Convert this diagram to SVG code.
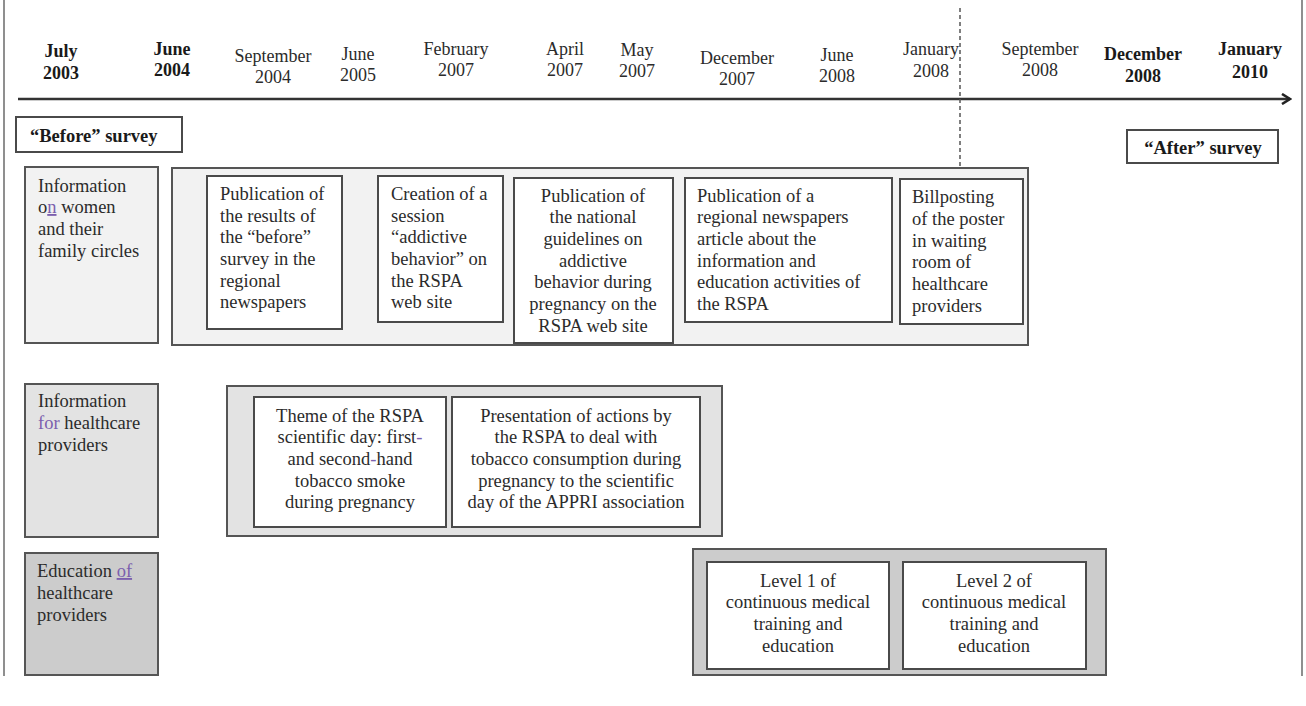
<svg xmlns="http://www.w3.org/2000/svg" width="1306" height="706" viewBox="0 0 1306 706">
<style>
  text { font-family: "Liberation Serif", "Times New Roman", serif; fill: #2b2b2b; }
  .d { font-size: 18px; text-anchor: middle; }
  .b { font-weight: bold; fill: #1a1a1a; }
  .t { font-size: 18.5px; }
  .c { text-anchor: middle; }
  .box { fill: #ffffff; stroke: #4a4a4a; stroke-width: 2; }
  .r1 { fill: #f2f2f2; stroke: #555; stroke-width: 2; }
  .r2 { fill: #e3e3e3; stroke: #555; stroke-width: 2; }
  .r3 { fill: #cccccc; stroke: #555; stroke-width: 2; }
  .p { fill: #7b5fae; }
  .frame { stroke: #6a6a6a; stroke-width: 1.5; fill: none; }
</style>
<defs>
  <marker id="arr" viewBox="0 0 12 12" refX="10" refY="6" markerWidth="12" markerHeight="12" markerUnits="userSpaceOnUse" orient="auto">
    <path d="M2,1 L10,6 L2,11" fill="none" stroke="#222" stroke-width="2.6" stroke-linejoin="miter"/>
  </marker>
</defs>

<g id="frame">
  <line class="frame" x1="4" y1="0" x2="4" y2="676"/>
  <line class="frame" x1="1302" y1="0" x2="1302" y2="676"/>
</g>

<g id="connectors">
  <line id="timeline-axis" x1="18" y1="99" x2="1290" y2="99" stroke="#333" stroke-width="2.5" marker-end="url(#arr)"/>
  <line id="dashed-marker" x1="960" y1="8" x2="960" y2="168" stroke="#555" stroke-width="1.5" stroke-dasharray="4,3"/>
</g>

<g id="dates">
  <text class="d b" x="61" y="57">July</text><text class="d b" x="61" y="79">2003</text>
  <text class="d b" x="172" y="55">June</text><text class="d b" x="172" y="76">2004</text>
  <text class="d" x="273" y="62">September</text><text class="d" x="273" y="83">2004</text>
  <text class="d" x="358" y="60">June</text><text class="d" x="358" y="81">2005</text>
  <text class="d" x="456" y="55">February</text><text class="d" x="456" y="76">2007</text>
  <text class="d" x="565" y="55">April</text><text class="d" x="565" y="76">2007</text>
  <text class="d" x="637" y="56">May</text><text class="d" x="637" y="77">2007</text>
  <text class="d" x="737" y="64">December</text><text class="d" x="737" y="85">2007</text>
  <text class="d" x="837" y="61">June</text><text class="d" x="837" y="82">2008</text>
  <text class="d" x="931" y="55">January</text><text class="d" x="931" y="77">2008</text>
  <text class="d" x="1040" y="55">September</text><text class="d" x="1040" y="76">2008</text>
  <text class="d b" x="1143" y="60">December</text><text class="d b" x="1143" y="82">2008</text>
  <text class="d b" x="1250" y="55">January</text><text class="d b" x="1250" y="78">2010</text>
</g>

<g id="before-survey">
  <rect class="box" x="16" y="117" width="166" height="35"/>
  <text class="t b" x="30" y="142">“Before” survey</text>
</g>
<g id="after-survey">
  <rect class="box" x="1127" y="130" width="151" height="33"/>
  <text class="t b c" x="1203" y="154">“After” survey</text>
</g>

<g id="row1-label">
  <rect class="r1" x="25" y="167" width="133" height="176"/>
  <text class="t" x="38" y="192">Information</text>
  <text class="t" x="38" y="213">o<tspan class="p" text-decoration="underline">n</tspan> women</text>
  <text class="t" x="38" y="235">and their</text>
  <text class="t" x="38" y="257">family circles</text>
</g>
<g id="row1-container">
  <rect class="r1" x="172" y="168" width="856" height="177"/>
</g>
<g id="r1-box1">
  <rect class="box" x="207" y="176" width="135" height="153"/>
  <text class="t" x="220" y="200">Publication of</text>
  <text class="t" x="220" y="222">the results of</text>
  <text class="t" x="220" y="243">the “before”</text>
  <text class="t" x="220" y="265">survey in the</text>
  <text class="t" x="220" y="287">regional</text>
  <text class="t" x="220" y="308">newspapers</text>
</g>
<g id="r1-box2">
  <rect class="box" x="378" y="176" width="125" height="146"/>
  <text class="t" x="391" y="200">Creation of a</text>
  <text class="t" x="391" y="222">session</text>
  <text class="t" x="391" y="243">“addictive</text>
  <text class="t" x="391" y="265">behavior” on</text>
  <text class="t" x="391" y="287">the RSPA</text>
  <text class="t" x="391" y="308">web site</text>
</g>
<g id="r1-box3">
  <rect class="box" x="514" y="178" width="159" height="165"/>
  <text class="t c" x="593" y="202">Publication of</text>
  <text class="t c" x="593" y="223">the national</text>
  <text class="t c" x="593" y="245">guidelines on</text>
  <text class="t c" x="593" y="267">addictive</text>
  <text class="t c" x="593" y="288">behavior during</text>
  <text class="t c" x="593" y="310">pregnancy on the</text>
  <text class="t c" x="593" y="332">RSPA web site</text>
</g>
<g id="r1-box4">
  <rect class="box" x="685" y="178" width="207" height="144"/>
  <text class="t" x="697" y="202">Publication of a</text>
  <text class="t" x="697" y="223">regional newspapers</text>
  <text class="t" x="697" y="245">article about the</text>
  <text class="t" x="697" y="267">information and</text>
  <text class="t" x="697" y="288">education activities of</text>
  <text class="t" x="697" y="310">the RSPA</text>
</g>
<g id="r1-box5">
  <rect class="box" x="900" y="179" width="123" height="145"/>
  <text class="t" x="912" y="203">Billposting</text>
  <text class="t" x="912" y="225">of the poster</text>
  <text class="t" x="912" y="247">in waiting</text>
  <text class="t" x="912" y="268">room of</text>
  <text class="t" x="912" y="290">healthcare</text>
  <text class="t" x="912" y="312">providers</text>
</g>

<g id="row2-label">
  <rect class="r2" x="25" y="384" width="133" height="153"/>
  <text class="t" x="38" y="407">Information</text>
  <text class="t" x="38" y="429"><tspan class="p">for</tspan> healthcare</text>
  <text class="t" x="38" y="451">providers</text>
</g>
<g id="row2-container">
  <rect class="r2" x="227" y="386" width="495" height="150"/>
</g>
<g id="r2-box1">
  <rect class="box" x="254" y="397" width="192" height="130"/>
  <text class="t c" x="350" y="422">Theme of the RSPA</text>
  <text class="t c" x="350" y="443">scientific day: first<tspan class="p">-</tspan></text>
  <text class="t c" x="350" y="465">and second<tspan class="p">-</tspan>hand</text>
  <text class="t c" x="350" y="487">tobacco smoke</text>
  <text class="t c" x="350" y="508">during pregnancy</text>
</g>
<g id="r2-box2">
  <rect class="box" x="452" y="397" width="248" height="130"/>
  <text class="t c" x="576" y="422">Presentation of actions by</text>
  <text class="t c" x="576" y="443">the RSPA to deal with</text>
  <text class="t c" x="576" y="465">tobacco consumption during</text>
  <text class="t c" x="576" y="487">pregnancy to the scientific</text>
  <text class="t c" x="576" y="508">day of the APPRI association</text>
</g>

<g id="row3-label">
  <rect class="r3" x="25" y="553" width="133" height="122"/>
  <text class="t" x="37" y="577">Education <tspan class="p" text-decoration="underline">of</tspan></text>
  <text class="t" x="37" y="599">healthcare</text>
  <text class="t" x="37" y="621">providers</text>
</g>
<g id="row3-container">
  <rect class="r3" x="693" y="549" width="413" height="126"/>
</g>
<g id="r3-box1">
  <rect class="box" x="707" y="562" width="182" height="107"/>
  <text class="t c" x="798" y="587">Level 1 of</text>
  <text class="t c" x="798" y="608">continuous medical</text>
  <text class="t c" x="798" y="630">training and</text>
  <text class="t c" x="798" y="652">education</text>
</g>
<g id="r3-box2">
  <rect class="box" x="903" y="562" width="183" height="107"/>
  <text class="t c" x="994" y="587">Level 2 of</text>
  <text class="t c" x="994" y="608">continuous medical</text>
  <text class="t c" x="994" y="630">training and</text>
  <text class="t c" x="994" y="652">education</text>
</g>
</svg>
